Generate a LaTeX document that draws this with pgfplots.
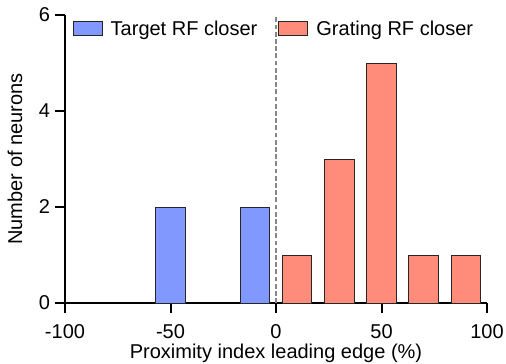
\documentclass[border=0pt]{standalone}
\usepackage{fontspec}
\setmainfont{Liberation Sans}
\usepackage{pgfplots}
\pgfplotsset{compat=1.18}
\definecolor{tblue}{RGB}{128,152,255}
\definecolor{gred}{RGB}{255,139,122}
\definecolor{dgray}{RGB}{135,135,135}
\begin{document}
\begin{tikzpicture}[font=\fontsize{10}{12}\selectfont]
\begin{axis}[
  at={(0,0)}, anchor=south west,
  scale only axis, width=211pt, height=144pt,
  xmin=-100, xmax=100, ymin=0, ymax=6,
  axis lines*=left,
  axis line style={line width=1pt, -},
  every tick/.style={line width=1pt, black},
  tick align=outside, major tick length=5pt,
  xtick={-100,-50,0,50,100},
  xticklabels={-100,-50,0,50,100},
  ytick={0,2,4,6},
  yticklabels={0,2,4,6},
  xticklabel style={yshift=-2.2pt},
  yticklabel style={xshift=1pt},
  xlabel={Proximity index leading edge (\%)},
  ylabel={Number of neurons},
  xlabel style={at={(axis description cs:0.5,-0.1743)}, anchor=center},
  ylabel style={at={(axis description cs:-0.1185,0.5)}, anchor=center},
  legend columns=2,
  legend style={draw=none, fill=none, inner sep=0pt, outer sep=0pt,
    at={(axis description cs:0,1)}, anchor=north west, xshift=3.85pt, yshift=-3.2pt,
    font=\fontsize{10}{12}\selectfont,
    nodes={inner sep=0pt, outer sep=0pt},
    cells={anchor=base west},
    /tikz/every odd column/.append style={column sep=4pt},
    /tikz/every even column/.append style={column sep=10.5pt}},
]
\addplot[dgray, line width=0.8pt, dash pattern=on 2.4pt off 1.2pt, forget plot] coordinates {(0,0) (0,6)};
\addplot[ybar, bar width=14, bar shift=0pt, fill=tblue, draw=black!85, line width=0.5pt,
  legend image code/.code={\draw[fill=tblue, draw=black!85, line width=0.5pt] (0pt,0.3pt) rectangle (14.5pt,7pt);}]
  coordinates {(-50,2) (-10,2)};
\addlegendentry{Target RF closer}
\addplot[ybar, bar width=14, bar shift=0pt, fill=gred, draw=black!85, line width=0.5pt,
  legend image code/.code={\draw[fill=gred, draw=black!85, line width=0.5pt] (0pt,0.3pt) rectangle (14.5pt,7pt);}]
  coordinates {(10,1) (30,3) (50,5) (70,1) (90,1)};
\addlegendentry{Grating RF closer}
\end{axis}
\pgfresetboundingbox
\path (-32.5pt,-30.35pt) rectangle (220.5pt,151.5pt);
\end{tikzpicture}
\end{document}
